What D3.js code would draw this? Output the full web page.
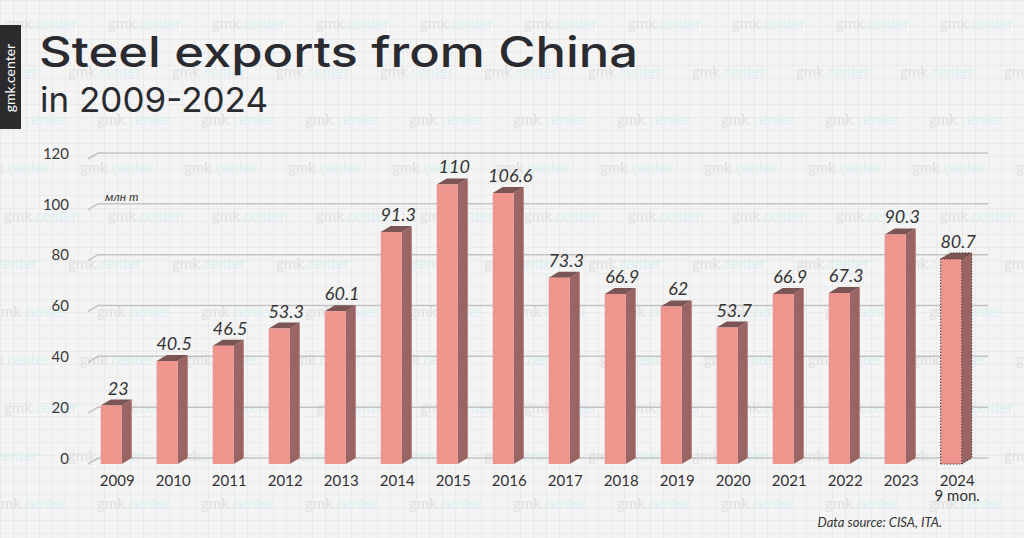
<!DOCTYPE html>
<html><head><meta charset="utf-8">
<script src="https://cdn.jsdelivr.net/npm/d3@7"></script>
<style>body{margin:0;background:#f4f4f4;} svg{display:block}</style>
</head><body>
<svg id="c" width="1024" height="538"></svg>
<script>
const years = ["2009","2010","2011","2012","2013","2014","2015","2016","2017","2018","2019","2020","2021","2022","2023","2024"];
const exportsMt = [23,40.5,46.5,53.3,60.1,91.3,110,106.6,73.3,66.9,62,53.7,66.9,67.3,90.3,80.7];
const valueLabels = ["23","40.5","46.5","53.3","60.1","91.3","110","106.6","73.3","66.9","62","53.7","66.9","67.3","90.3","80.7"];
const partialYear = "2024";
const partialNote = "9 mon.";
const yTicks = [0,20,40,60,80,100,120];
const titleText = "Steel exports from China";
const subtitleText = "in 2009-2024";
const unitText = "млн т";
const sourceText = "Data source: CISA, ITA.";
const brandText = "gmk.center";

const W = 1024, H = 538;
const svg = d3.select("#c");
const DX = 10, DY = -6;
const FONT = "Lato, 'Open Sans', sans-serif";
const TFONT = "Inter, Lato, sans-serif";

// background grid
const bg = svg.append("g");
bg.append("rect").attr("width", W).attr("height", H).attr("fill", "#f4f4f4");
const gs = 13;
bg.append("g").selectAll("line.v").data(d3.range(0, W, gs)).join("line")
  .attr("x1", d => d + 0.5).attr("x2", d => d + 0.5).attr("y1", 0).attr("y2", H)
  .attr("stroke", "#eaeaea").attr("stroke-width", 1);
bg.append("g").selectAll("line.h").data(d3.range(0, H, gs)).join("line")
  .attr("y1", d => d + 0.5).attr("y2", d => d + 0.5).attr("x1", 0).attr("x2", W)
  .attr("stroke", "#eaeaea").attr("stroke-width", 1);

// watermarks
const wmOffsets = [4, 68, 97, 80];
const wm = svg.append("g").attr("font-family", FONT).attr("font-size", 15);
for (let r = 0; r < 11; r++) {
  const y = 25 + 48 * r;
  for (let x = wmOffsets[r % 4] - 104; x < W; x += 104) {
    const t = wm.append("text").attr("x", x).attr("y", y).attr("dominant-baseline", "middle");
    t.append("tspan").attr("fill", "#e1e1e1").text("gmk");
    t.append("tspan").attr("fill", "#dceff2").text(".center");
  }
}

// scales
const x = d3.scaleBand().domain(years).range([83.2, 979.2]).paddingInner(0.625).paddingOuter(0.3125);
const y = d3.scaleLinear().domain([0, 120]).range([464, 159]);

// gridlines (perspective)
const grid = svg.append("g");
grid.selectAll("path").data(yTicks).join("path")
  .attr("d", d => `M88,${y(d)} L${88 + DX},${y(d) + DY} L988,${y(d) + DY}`)
  .attr("fill", "none").attr("stroke", "#c3c3c3").attr("stroke-width", 1.5);

// y labels
svg.append("g").selectAll("text").data(yTicks).join("text")
  .attr("x", 69).attr("y", d => y(d) - 4).attr("text-anchor", "end")
  .attr("dominant-baseline", "middle").attr("font-family", FONT).attr("font-size", 15)
  .attr("fill", "#3a3a3a").text(d => d);

svg.append("text").attr("x", 105).attr("y", 201).attr("font-family", FONT)
  .attr("font-style", "italic").attr("font-size", 12).attr("fill", "#333").text(unitText);

// bars
const data = years.map((yr, i) => ({ yr, v: exportsMt[i], lbl: valueLabels[i] }));
const bars = svg.append("g").selectAll("g").data(data).join("g");
bars.each(function(d) {
  const g = d3.select(this);
  const x0 = x(d.yr), w = x.bandwidth();
  const yt = y(d.v), yb = y(0);
  const partial = d.yr === partialYear;
  g.append("path").attr("d", `M${x0 + w},${yt} L${x0 + w + DX},${yt + DY} L${x0 + w + DX},${yb + DY} L${x0 + w},${yb} Z`)
    .attr("fill", "#9b6464");
  g.append("path").attr("d", `M${x0},${yt} L${x0 + DX},${yt + DY} L${x0 + w + DX},${yt + DY} L${x0 + w},${yt} Z`)
    .attr("fill", "#7b5454");
  g.append("rect").attr("x", x0).attr("y", yt).attr("width", w).attr("height", yb - yt)
    .attr("fill", "#ee958e");
  if (partial) {
    const st = { stroke: "#4a3434", "stroke-width": 1, "stroke-dasharray": "1.5,1.5", fill: "none" };
    const addP = p => { const e = g.append("path").attr("d", p); for (const k in st) e.attr(k, st[k]); };
    addP(`M${x0},${yb} L${x0},${yt} L${x0 + DX},${yt + DY} L${x0 + w + DX},${yt + DY} L${x0 + w + DX},${yb + DY} L${x0 + w},${yb} Z`);
    addP(`M${x0},${yt} L${x0 + w},${yt} L${x0 + w},${yb} M${x0 + w},${yt} L${x0 + w + DX},${yt + DY}`);
  }
  g.append("text").attr("x", x0 + w / 2 + 7).attr("y", yt - 11).attr("text-anchor", "middle")
    .attr("font-family", FONT).attr("font-style", "italic").attr("font-size", 18)
    .attr("fill", "#333").text(d.lbl);
  g.append("text").attr("x", x0 + w / 2 + 6).attr("y", 486).attr("text-anchor", "middle")
    .attr("font-family", FONT).attr("font-size", 15).attr("fill", "#333").text(d.yr);
  if (partial) {
    g.append("text").attr("x", x0 + w / 2 + 6).attr("y", 501).attr("text-anchor", "middle")
      .attr("font-family", FONT).attr("font-size", 15).attr("fill", "#333").text(partialNote);
  }
});

// source
svg.append("text").attr("x", 942).attr("y", 527).attr("text-anchor", "end")
  .attr("font-family", FONT).attr("font-style", "italic").attr("font-size", 13)
  .attr("fill", "#333").text(sourceText);

// title
svg.append("text").attr("x", 39).attr("y", 67).attr("font-family", TFONT)
  .attr("font-size", 42).attr("font-weight", 500).attr("fill", "#2a2a31")
  .attr("textLength", 599).attr("lengthAdjust", "spacingAndGlyphs").text(titleText);
svg.append("text").attr("x", 40).attr("y", 112).attr("font-family", TFONT)
  .attr("font-size", 34).attr("font-weight", 400).attr("fill", "#2a2a31")
  .attr("textLength", 228).attr("lengthAdjust", "spacingAndGlyphs").text(subtitleText);

// brand box
svg.append("rect").attr("x", 0).attr("y", 25).attr("width", 21).attr("height", 104).attr("fill", "#2b2b2e");
svg.append("text").attr("transform", "translate(11,78) rotate(-90)").attr("text-anchor", "middle")
  .attr("dominant-baseline", "middle").attr("font-family", FONT).attr("font-size", 14)
  .attr("fill", "#ffffff").text(brandText);
</script>
</body></html>
